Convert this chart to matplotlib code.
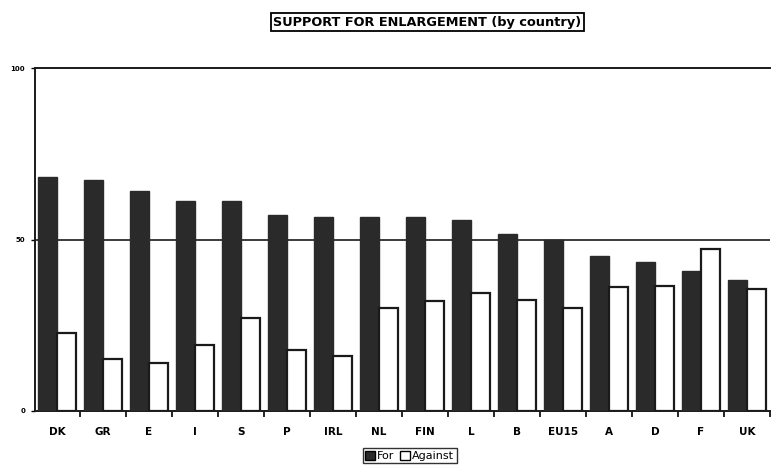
import matplotlib.pyplot as plt
import numpy as np
from matplotlib.patches import Patch

# Support for enlargement, % by country
countries = ['DK', 'GR', 'E', 'I', 'S', 'P', 'IRL', 'NL', 'FIN', 'L', 'B',
             'EU15', 'A', 'D', 'F', 'UK']
support_for = [68.2, 67.5, 64.2, 61.1, 61.3, 57.2, 56.5, 56.5, 56.6, 55.7,
               51.7, 50.0, 45.3, 43.5, 40.8, 38.3]
support_against = [22.7, 15.1, 13.9, 19.2, 27.0, 17.8, 15.9, 29.9, 32.1,
                   34.4, 32.2, 29.9, 36.1, 36.3, 47.3, 35.4]
y_ticks = [0, 50, 100]

plt.rcParams['font.family'] = ['DejaVu Sans']

fig = plt.figure(figsize=(7.73, 4.71), dpi=100)
ax = fig.add_axes([0.045, 0.128, 0.951, 0.727])

x = np.arange(len(countries))
w = 0.41
ax.bar(x - w / 2, support_for, width=w, color='#2a2a2a', edgecolor='#2a2a2a',
       linewidth=1.0, zorder=3)
ax.bar(x + w / 2, support_against, width=w, color='white', edgecolor='#1a1a1a',
       linewidth=1.6, zorder=3)

ax.axhline(50, color='#1a1a1a', linewidth=1.2, zorder=1)

ax.set_xlim(-0.48, 15.5)
ax.set_ylim(0, 100)
ax.set_yticks(y_ticks)
ax.set_yticklabels([str(v) for v in y_ticks], fontsize=5, fontweight='bold')
ax.set_xticks(x)
ax.set_xticklabels(countries, fontsize=7.5, fontweight='bold')
ax.set_xticks(np.arange(len(countries)) + 0.5, minor=True)
ax.tick_params(axis='x', which='major', length=0, pad=12)
ax.tick_params(axis='x', which='minor', length=4, width=1.2, direction='out')
ax.tick_params(axis='y', length=3, width=1.0, pad=4)

for side in ['left', 'bottom', 'top']:
    ax.spines[side].set_linewidth(1.4)
    ax.spines[side].set_color('#1a1a1a')
ax.spines['right'].set_visible(False)

fig.text(0.553, 0.953, 'SUPPORT FOR ENLARGEMENT (by country)', ha='center',
         va='center', fontsize=9.3, fontweight='bold',
         bbox=dict(boxstyle='square,pad=0.2', facecolor='white',
                   edgecolor='black', linewidth=1.3))

handles = [Patch(facecolor='#2a2a2a', edgecolor='black', label='For'),
           Patch(facecolor='white', edgecolor='black', label='Against')]
fig.legend(handles=handles, loc='center', bbox_to_anchor=(0.53, 0.032),
           ncol=2, fontsize=8, frameon=True, fancybox=False,
           edgecolor='black', handlelength=0.9, handleheight=0.9,
           handletextpad=0.2, columnspacing=0.5, borderpad=0.2)

plt.savefig('out.png', dpi=100)
plt.close()
